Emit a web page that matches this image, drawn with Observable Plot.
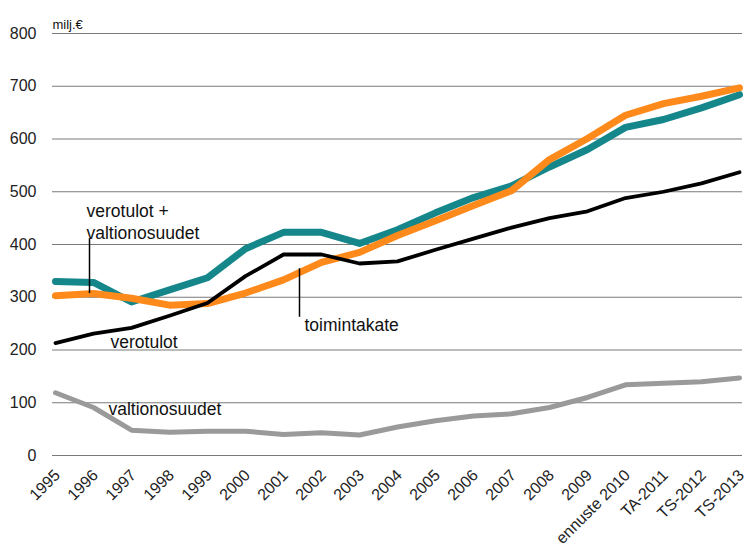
<!DOCTYPE html>
<html>
<head>
<meta charset="utf-8">
<script src="https://cdn.jsdelivr.net/npm/d3@7"></script>
<script src="https://cdn.jsdelivr.net/npm/@observablehq/plot@0.6"></script>
<style>
  body { margin: 0; background: #fff; }
  svg { font-family: "Liberation Sans", Arial, sans-serif; }
</style>
</head>
<body>
<div id="chart"></div>
<script>
const categories = ["1995","1996","1997","1998","1999","2000","2001","2002","2003","2004","2005","2006","2007","2008","2009","ennuste 2010","TA-2011","TS-2012","TS-2013"];
const verotulotValtionosuudet = [330, 328, 291, 314, 337, 392, 423, 423, 402, 428, 460, 489, 511, 547, 580, 622, 637, 659, 684];
const toimintakate = [303, 307, 298, 285, 288, 308, 333, 366, 385, 417, 445, 474, 502, 561, 601, 645, 667, 681, 697];
const verotulot = [213, 231, 242, 265, 289, 340, 381, 381, 364, 368, 390, 411, 432, 450, 463, 488, 500, 516, 537];
const valtionosuudet = [119, 91, 48, 44, 46, 46, 40, 43, 39, 54, 66, 75, 79, 91, 110, 134, 137, 140, 147];
const yTicks = [0, 100, 200, 300, 400, 500, 600, 700, 800];

const long = (name, vals) => categories.map((c, i) => ({cat: c, value: vals[i], series: name}));

const chart = Plot.plot({
  width: 746,
  height: 551,
  marginLeft: 52,
  marginRight: 4,
  marginTop: 33,
  marginBottom: 96,
  style: {fontFamily: "Liberation Sans, Arial, sans-serif", fontSize: "16px", color: "#222", background: "#fff"},
  x: {type: "point", domain: categories, padding: 0, label: null},
  y: {domain: [0, 800], label: null},
  marks: [
    Plot.ruleY(yTicks, {stroke: "#7a7a7a", strokeWidth: 1.2}),
    Plot.axisY({ticks: yTicks, tickSize: 0, tickPadding: 16, fontSize: 16, label: null}),
    Plot.axisX({tickSize: 0, tickPadding: 4, tickRotate: -45, dy: 13, dx: 2, fontSize: 16, label: null}),
    Plot.line(long("valtionosuudet", valtionosuudet), {x: "cat", y: "value", stroke: "#9a9a9a", strokeWidth: 5}),
    Plot.line(long("verotulot + valtionosuudet", verotulotValtionosuudet), {x: "cat", y: "value", stroke: "#15878a", strokeWidth: 7}),
    Plot.line(long("toimintakate", toimintakate), {x: "cat", y: "value", stroke: "#ff8a1c", strokeWidth: 7}),
    Plot.line(long("verotulot", verotulot), {x: "cat", y: "value", stroke: "#000", strokeWidth: 3.8}),
    Plot.ruleX(["1996"], {y1: 411, y2: 307, dx: -4, stroke: "#000", strokeWidth: 1.5}),
    Plot.ruleX(["2001"], {y1: 354, y2: 262, dx: 16, stroke: "#000", strokeWidth: 1.5}),
    Plot.text(["verotulot +\nvaltionosuudet"], {x: () => "1996", y: () => 481, dx: -7, textAnchor: "start", lineAnchor: "top", lineHeight: 1.25, fontSize: 17.5, fill: "#111"}),
    Plot.text(["toimintakate"], {x: () => "2001", y: () => 246, dx: 21, textAnchor: "start", fontSize: 17.5, fill: "#111"}),
    Plot.text(["verotulot"], {x: () => "1996", y: () => 214, dx: 17, textAnchor: "start", fontSize: 17.5, fill: "#111"}),
    Plot.text(["valtionosuudet"], {x: () => "1996", y: () => 88, dx: 15, textAnchor: "start", fontSize: 17.5, fill: "#111"}),
    Plot.text(["milj.€"], {frameAnchor: "top-left", dy: -14, textAnchor: "start", fontSize: 13, fill: "#111"})
  ]
});
document.getElementById("chart").appendChild(chart);
</script>
</body>
</html>
